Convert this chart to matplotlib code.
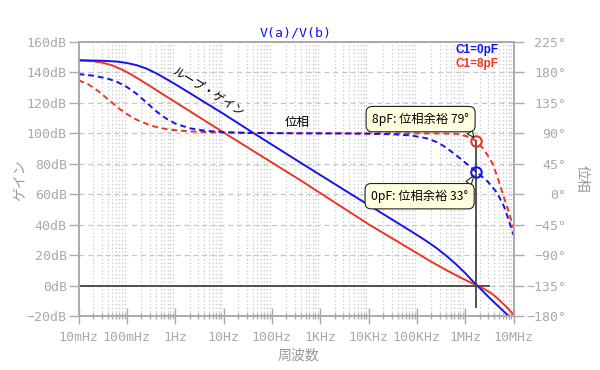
import numpy as np
import matplotlib
matplotlib.use("Agg")
import matplotlib.pyplot as plt
from matplotlib.ticker import LogLocator, NullFormatter

BLUE = "#1414f0"
RED = "#ec3524"
GRAY = "#aaaaaa"
GRID = "#c6c6c6"
MONO = "DejaVu Sans Mono"
CJK = ["Noto Sans CJK JP", "DejaVu Sans"]

# values, frequency as log10(Hz)
# loop gain, C1=0pF (blue) and C1=8pF (red), in dB
gain0_logf = [-2.0, -1.5, -1.2, -1.0, -0.8, -0.6, -0.4, -0.2, 0.0, 0.3, 0.6, 1.0,
              1.6, 2.6, 3.6, 4.66, 5.0, 5.2, 5.4, 5.6, 5.8, 6.0, 6.15, 6.25, 6.5,
              6.75, 7.0]
gain0_db = [148.0, 147.7, 147.1, 146.2, 144.8, 142.6, 139.6, 136.0, 132.3, 126.5, 120.6,
            112.8, 100.6, 80.6, 60.8, 40.0, 33.3, 29.2, 24.8, 19.8, 14.3, 8.2, 3.1,
            0.0, -8.0, -15.5, -23.0]
gain8_logf = [-2.0, -1.7, -1.5, -1.3, -1.1, -0.9, -0.7, -0.5, -0.3, -0.1, 0.2, 0.5, 0.8,
              1.08, 1.8, 2.6, 3.04, 4.0, 4.66, 5.28, 5.6, 5.9, 6.1, 6.25, 6.4, 6.55,
              6.7, 6.87, 7.0]
gain8_db = [148.0, 147.4, 146.4, 144.6, 141.9, 138.5, 134.6, 130.7, 126.6, 122.6, 116.6,
            110.6, 104.6, 99.0, 84.8, 69.0, 60.0, 40.3, 27.8, 16.0, 10.3, 5.3, 2.2, 0.0,
            -2.4, -5.2, -9.3, -14.6, -19.0]

# phase, in degrees
phase0_logf = [-2.0, -1.7, -1.4, -1.2, -1.0, -0.8, -0.6, -0.4, -0.2, 0.0, 0.3, 0.6, 1.0,
               1.5, 2.5, 3.4, 4.0, 4.5, 4.87, 5.2, 5.4, 5.56, 5.7, 5.84, 6.04, 6.23,
               6.46, 6.66, 6.8, 6.9, 7.0]
phase0_deg = [177.5, 175.3, 171.0, 166.0, 158.5, 148.5, 136.0, 123.0, 112.5, 104.5, 97.5,
              94.0, 91.8, 90.6, 90.0, 89.8, 89.4, 88.6, 87.0, 82.7, 77.5, 71.0, 63.8,
              56.1, 44.5, 33.0, 19.3, 2.2, -17.6, -38.0, -60.0]
phase8_logf = [-2.0, -1.8, -1.6, -1.45, -1.3, -1.15, -1.0, -0.85, -0.7, -0.5, -0.3, -0.1,
               0.3, 0.9, 2.0, 4.0, 5.5, 5.84, 6.04, 6.23, 6.39, 6.56, 6.66, 6.8, 6.9, 7.0]
phase8_deg = [168.5, 162.5, 153.0, 144.0, 135.0, 126.0, 118.5, 112.0, 107.0, 101.5, 97.8,
              95.3, 92.8, 91.3, 90.3, 90.0, 89.8, 89.2, 85.5, 79.0, 66.0, 46.4, 27.0,
              -4.0, -26.0, -50.0]

cross_freq = 1.7e6
margins = [33, 79]

xtick_labels = ["10mHz", "100mHz", "1Hz", "10Hz", "100Hz", "1KHz", "10KHz",
                "100KHz", "1MHz", "10MHz"]
db_ticks = list(range(-20, 161, 20))
deg_ticks = list(range(-180, 226, 45))

fig = plt.figure(figsize=(6, 3.7), dpi=100)
ax = fig.add_axes([78.5 / 600, 1 - 316 / 370, 435 / 600, 274 / 370])
ax2 = ax.twinx()

ax.set_xscale("log")
ax.set_xlim(1e-2, 1e7)
ax.set_ylim(-20, 160)
ax2.set_ylim(-180, 225)

# grid: dashed horizontals every 20dB, dotted verticals at 2..9 of each decade
ax.set_xticks(10.0 ** np.arange(-2, 8))
ax.set_xticklabels(xtick_labels, family=MONO, fontsize=9.5, color=GRAY)
ax.xaxis.set_minor_locator(LogLocator(base=10, subs=np.arange(2, 10), numticks=100))
ax.xaxis.set_minor_formatter(NullFormatter())
ax.grid(which="minor", axis="x", ls=(0, (1, 2)), color=GRID, lw=0.9)
ax.grid(which="major", axis="y", ls=(0, (4, 3)), color=GRID, lw=0.9)
ax.set_axisbelow(True)

ax.set_yticks(db_ticks)
ax.set_yticklabels([f"{v}dB".replace("-", "\u2212") for v in db_ticks],
                   family=MONO, fontsize=9.5, color=GRAY)
ax2.set_yticks(deg_ticks)
ax2.set_yticklabels([f"{v}\u00b0".replace("-", "\u2212") for v in deg_ticks],
                    family=MONO, fontsize=9.5, color=GRAY, ha="right")

ax.tick_params(axis="x", which="major", direction="inout", length=12, width=1, color=GRAY, pad=5)
ax.tick_params(axis="x", which="minor", direction="inout", length=5, width=1, color=GRAY)
ax.tick_params(axis="y", direction="out", length=7, width=1, color=GRAY, pad=1.5)
ax2.tick_params(axis="y", direction="out", length=7, width=1, color=GRAY, pad=31)
for a in (ax, ax2):
    for s in a.spines.values():
        s.set_color(GRAY)
        s.set_linewidth(1.2)

# 0dB line and crossover marker
ax.plot([1e-2, cross_freq * 1.8], [0, 0], color="#444444", lw=1.3, zorder=2)
ax2.plot([cross_freq, cross_freq], [-167, margins[1]], color="#444444", lw=1.3, zorder=2)

ax.plot(10.0 ** np.array(gain8_logf), gain8_db, color=RED, lw=1.4, zorder=3)
ax.plot(10.0 ** np.array(gain0_logf), gain0_db, color=BLUE, lw=1.4, zorder=3)
ax2.plot(10.0 ** np.array(phase8_logf), phase8_deg, color=RED, lw=1.4, ls=(0, (3, 2)))
ax2.plot(10.0 ** np.array(phase0_logf), phase0_deg, color=BLUE, lw=1.4, ls=(0, (3, 2)))

# phase margin callouts
callouts = [
    (margins[0], BLUE, "0pF: 位相余裕 33°", (-40.8, -17.5), (0.96, 1.0)),
    (margins[1], RED, "8pF: 位相余裕 79°", (-40.1, 15.6), (0.96, 0.0)),
]
for pm, color, label, offset, rel in callouts:
    ax2.plot(cross_freq, pm, "o", ms=7.5, mfc="none", mec=color, mew=1.5, zorder=5)
    ax2.annotate(label, xy=(cross_freq, pm), xytext=offset, textcoords="offset points",
                 ha="center", va="center", fontsize=8.8, family=CJK, zorder=6,
                 bbox=dict(boxstyle="round,pad=0.5", fc="#ffffe0", ec="#222222", lw=0.8),
                 arrowprops=dict(arrowstyle="wedge,tail_width=0.5,shrink_factor=0.5",
                                 fc="#ffffe0", ec="#222222", lw=0.8, relpos=rel,
                                 shrinkA=0, shrinkB=3))

ax.text(4.8, 127.5, "ループ・ゲイン", rotation=-32, rotation_mode="anchor",
        ha="center", va="center", fontsize=8.5, family=CJK, color="black")
ax.text(340, 107.3, "位相", ha="center", va="center", fontsize=9, family=CJK, color="black")

ax.text(0.965, 0.971, "C1=0pF", transform=ax.transAxes, ha="right", va="center",
        color=BLUE, fontweight="bold", fontsize=8.5, family="Liberation Sans")
ax.text(0.965, 0.92, "C1=8pF", transform=ax.transAxes, ha="right", va="center",
        color=RED, fontweight="bold", fontsize=8.5, family="Liberation Sans")

fig.text(296 / 600, 1 - 33 / 370, "V(a)/V(b)", ha="center", va="center",
         family=MONO, fontsize=9.5, color=BLUE)
fig.text(20 / 600, 1 - 180 / 370, "ゲイン", rotation=90, ha="center", va="center",
         family=CJK, fontsize=10, color="#999999")
fig.text(582 / 600, 1 - 179 / 370, "位相", rotation=270, ha="center", va="center",
         family=CJK, fontsize=10, color="#999999")
fig.text(298 / 600, 1 - 356 / 370, "周波数", ha="center", va="center",
         family=CJK, fontsize=10, color="#999999")

fig.savefig("out.png", dpi=100)
